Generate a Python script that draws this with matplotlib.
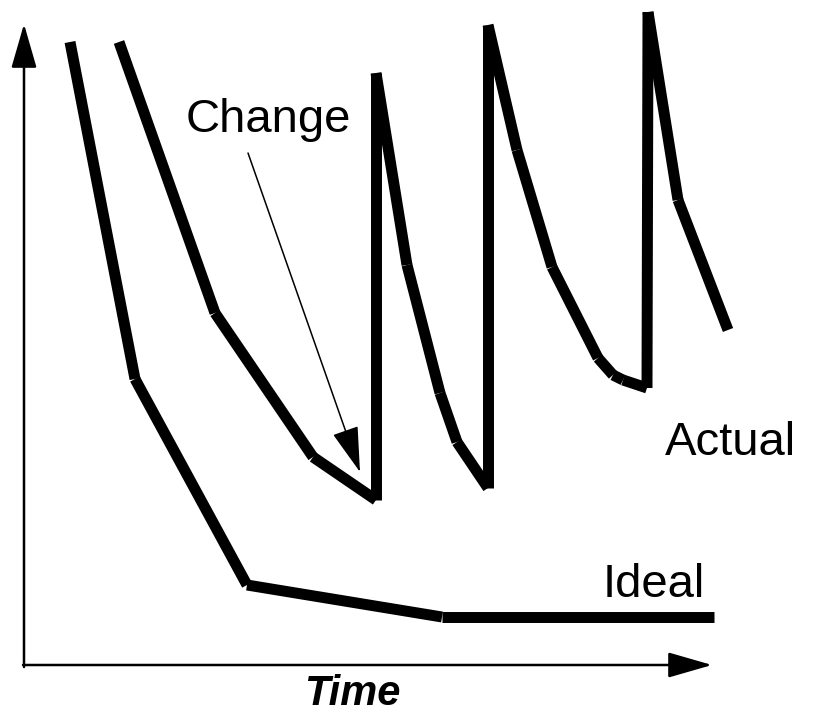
import matplotlib
matplotlib.use('Agg')
import matplotlib.pyplot as plt

plt.rcParams['font.family'] = ['Liberation Sans', 'DejaVu Sans']

# curves in chart units (time along x, level along y, origin at axis corner)
ideal_t = [46, 111, 223, 418, 690]
ideal_v = [623, 286, 80, 48, 48]

actual_t = [95, 191, 289, 352, 352, 383, 416, 433, 464, 464, 493, 528,
            574, 589, 599, 623, 624, 654, 704]
actual_v = [623, 352, 208, 165, 592, 400, 272, 223, 177, 640, 515, 398,
            307, 290, 285, 277, 653, 465, 335]

# labels
xlabel = 'Time'
labels = {'Actual': (641, 210), 'Ideal': (579, 68)}
change_text = 'Change'
change_tip = (336, 193)

fig = plt.figure(figsize=(8.15, 7.14), dpi=100)
ax = fig.add_axes([0, 0, 1, 1])
ax.set_xlim(-24, 791)
ax.set_ylim(-49, 665)
ax.axis('off')

LW = 7.9

def draw_segments(t, v):
    # each piece drawn on its own, butt ends, like the original sketch
    for i in range(len(t) - 1):
        ax.plot(t[i:i+2], v[i:i+2], color='black', lw=LW,
                solid_capstyle='butt')

draw_segments(ideal_t, ideal_v)
draw_segments(actual_t, actual_v)

# axes with arrow heads
head = '-|>,head_length=2.74,head_width=0.79'
ax.annotate('', xy=(0, 641), xytext=(0, -2),
            arrowprops=dict(arrowstyle=head, mutation_scale=10, lw=1.8,
                            color='black', shrinkA=0, shrinkB=0))
ax.annotate('', xy=(688, 0), xytext=(-1, 0),
            arrowprops=dict(arrowstyle=head, mutation_scale=10, lw=1.8,
                            color='black', shrinkA=0, shrinkB=0))

ax.text(328, -40, xlabel, fontsize=30, fontweight='bold', fontstyle='italic',
        ha='center', va='baseline')

for name, (tx, ty) in labels.items():
    ax.text(tx, ty, name, fontsize=34, ha='left', va='baseline')

ax.text(244, 533, change_text, fontsize=34, ha='center', va='baseline')
ax.annotate('', xy=change_tip, xytext=(224, 512),
            arrowprops=dict(arrowstyle='-|>,head_length=2.9,head_width=0.85',
                            mutation_scale=10, lw=1.1, color='black',
                            shrinkA=0, shrinkB=0))

fig.savefig('out.png', dpi=100)
